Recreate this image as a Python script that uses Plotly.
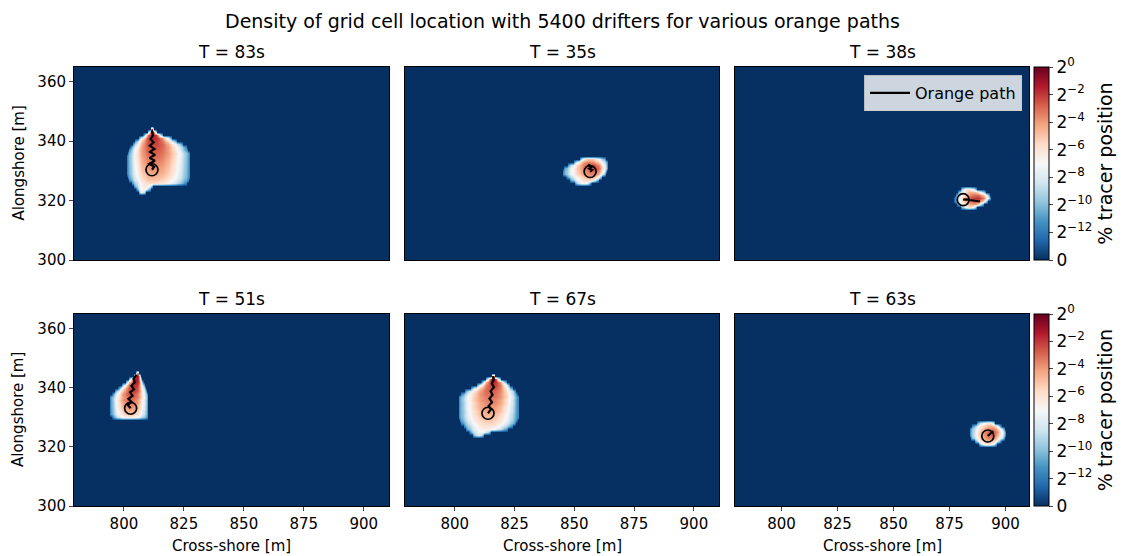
import numpy as np
import plotly.graph_objects as go

W, H = 1125, 556

# ---------------- data ----------------
panel_titles = ["T = 83s", "T = 35s", "T = 38s", "T = 51s", "T = 67s", "T = 63s"]
x_ticks = [800, 825, 850, 875, 900]
y_ticks = [300, 320, 340, 360]
cbar_vals = [-14, -12, -10, -8, -6, -4, -2, 0]
cbar_text = ["0", "2<sup>−12</sup>", "2<sup>−10</sup>", "2<sup>−8</sup>", "2<sup>−6</sup>",
             "2<sup>−4</sup>", "2<sup>−2</sup>", "2<sup>0</sup>"]

# blob outlines per row: y, left x, right x, x of densest cell, log2 density at that cell
b1_y = list(range(323, 345))
b1_xl = [806, 805, 804, 803, 802, 801.5, 801.2, 801.2, 801.2, 801.2, 801.2, 801.2, 801.2, 801.5, 801.8, 802.5, 803.5, 804.5, 806, 808, 810, 811]
b1_xr = [809, 811, 812, 826, 827, 827.5, 827.5, 827.5, 827.5, 827.5, 827.5, 827.5, 827.5, 827.5, 826.5, 826, 824.5, 822, 820, 816, 813.5, 812.5]
b1_xc = [807.5, 808, 809, 811, 811.5, 811.8, 812, 812, 812, 812, 812, 812, 812, 812, 812, 812, 812, 812, 812, 812, 811.8, 811.5]
b1_k = [-7.5, -6.8, -6.2, -5.6, -5.0, -4.6, -4.3, -4.0, -3.8, -3.6, -3.4, -3.2, -3.0, -2.8, -2.6, -2.4, -2.2, -2.0, -1.7, -1.4, -1.1, -1.0]

b2_y = list(range(326, 335))
b2_xl = [850, 848, 846.5, 845, 845, 845.5, 847, 849.5, 852]
b2_xr = [857, 860, 861.5, 863, 863.5, 864, 864, 864, 863]
b2_xc = [854, 856, 857.5, 858, 858.5, 858.5, 857.5, 856, 856]
b2_k = [-7, -5.5, -4.5, -3.5, -3.0, -2.5, -2.5, -3.5, -5]

b3_y = list(range(318, 325))
b3_xl = [880, 878, 877, 877, 877.5, 878.5, 880]
b3_xr = [887, 890, 892, 893.5, 893, 891, 887]
b3_xc = [884, 886, 887, 887.5, 887, 885, 883]
b3_k = [-6, -4, -2.5, -2, -3, -4.5, -6]

b4_y = list(range(330, 346))
b4_xl = [795, 794.2, 794.2, 794.2, 794.2, 794.2, 794.2, 794.2, 795, 796, 797.5, 799, 800.5, 802, 804, 805]
b4_xr = [810, 810.2, 810.2, 810.2, 810.2, 810.2, 810.2, 810.2, 810, 809.5, 809, 808.5, 808, 807.5, 807, 806]
b4_xc = [802, 802.5, 802.5, 802.8, 802.5, 803, 802.5, 803.5, 803, 804, 804, 804.5, 805, 805, 805.3, 805.5]
b4_k = [-6.5, -5.0, -4.5, -4.0, -3.6, -3.3, -3.0, -2.8, -2.5, -2.2, -2.0, -1.8, -1.5, -1.2, -1.0, -1.5]

b5_y = list(range(324, 345))
b5_xl = [807.5, 806, 804.5, 803.5, 802.5, 801.8, 801.4, 801.4, 801.4, 801.4, 801.4, 801.4, 801.4, 801.4, 802.5, 804, 806.5, 809, 811, 813, 815.5]
b5_xr = [812, 815, 822, 824, 825.5, 826.2, 826.4, 826.4, 826.4, 826.4, 826.4, 826.4, 826.4, 826.4, 826, 825.5, 824, 823, 821.5, 819, 816.5]
b5_xc = [810, 811, 812.5, 813.5, 814, 814, 814, 814, 814.8, 814.5, 814.6, 815.4, 814.8, 815.6, 815.2, 815.4, 816, 816.2, 816, 816, 816]
b5_k = [-8, -7.2, -6.5, -6, -5.5, -5.1, -4.8, -4.5, -4.2, -4.0, -3.8, -3.6, -3.4, -3.2, -3.0, -2.8, -2.5, -2.1, -1.7, -1.3, -1.1]

b6_y = list(range(321, 329))
b6_xl = [888, 886, 884.5, 884, 884, 884, 885, 887]
b6_xr = [896, 898, 899.5, 900, 900, 899.5, 898, 895]
b6_xc = [892, 892.5, 893, 893.5, 894, 894, 893.5, 893]
b6_k = [-6, -4.5, -3.5, -3, -2.8, -3.5, -4.5, -6]

# orange paths (first point = start, drawn with a circle)
p1_x = [811.7, 812.6, 810.6, 812.9, 810.7, 813.0, 810.9, 812.7, 810.8, 812.4, 811.1, 812.1, 811.6]
p1_y = [330.4, 331.4, 332.4, 333.4, 334.4, 335.4, 336.4, 337.4, 338.5, 339.6, 340.8, 342.0, 343.6]
p2_x = [856.6, 857.4, 856.2, 857.1, 856.0, 856.4]
p2_y = [329.8, 330.3, 330.8, 331.3, 331.8, 332.3]
p3_x = [881.1, 882.6, 884.1, 885.6, 887.1, 888.6]
p3_y = [320.3, 320.4, 320.2, 320.0, 319.9, 319.7]
p4_x = [802.8, 801.6, 803.2, 801.9, 803.6, 802.6, 804.2, 803.1, 804.6, 804.0, 805.3]
p4_y = [333.1, 334.2, 335.2, 336.3, 337.3, 338.5, 339.5, 340.7, 341.9, 343.0, 344.5]
p5_x = [813.9, 815.1, 814.2, 815.6, 814.5, 815.8, 815.0, 816.4, 815.5, 816.3, 816.0]
p5_y = [331.4, 332.7, 333.9, 335.1, 336.4, 337.6, 338.9, 340.2, 341.5, 342.8, 343.9]
p6_x = [892.1, 893.0, 893.8, 894.5]
p6_y = [323.7, 324.3, 324.9, 325.4]

# ---------------- build ----------------
X_RANGE = [779.2, 910.5]
Y_RANGE = [300, 365]
FLOOR = -14.0
EDGE = -11.8
gx = np.arange(779.25, 911.0, 0.5)
gy = np.arange(300, 366)


def field(by, bxl, bxr, bxc, bk):
    z = np.full((len(gy), len(gx)), FLOOR)
    for y, l, r, c, k in zip(by, bxl, bxr, bxc, bk):
        j = int(round(y - gy[0]))
        m = (gx >= l) & (gx <= r)
        xx = gx[m]
        d = np.where(xx < c, (c - xx) / max(c - l, 0.5), (xx - c) / max(r - c, 0.5))
        d = np.clip(d, 0, 1)
        z[j, m] = k - (k - EDGE) * d ** 2.2
    return z


blobs = [
    (b1_y, b1_xl, b1_xr, b1_xc, b1_k),
    (b2_y, b2_xl, b2_xr, b2_xc, b2_k),
    (b3_y, b3_xl, b3_xr, b3_xc, b3_k),
    (b4_y, b4_xl, b4_xr, b4_xc, b4_k),
    (b5_y, b5_xl, b5_xr, b5_xc, b5_k),
    (b6_y, b6_xl, b6_xr, b6_xc, b6_k),
]
paths = [(p1_x, p1_y), (p2_x, p2_y), (p3_x, p3_y), (p4_x, p4_y), (p5_x, p5_y), (p6_x, p6_y)]

rdbu_r = ['#053061', '#2166ac', '#4393c3', '#92c5de', '#d1e5f0', '#f7f7f7',
          '#fddbc7', '#f4a582', '#d6604d', '#b2182b', '#67001f']
cscale = [[i / 10, c] for i, c in enumerate(rdbu_r)]

# panel pixel boxes (left, right) and rows (top, bottom)
cols_px = [(74, 389), (405, 719), (735, 1029)]
rows_px = [(67, 260), (314, 506)]

FONT = "DejaVu Sans"
fig = go.Figure()
layout = dict(
    width=W, height=H, margin=dict(l=0, r=0, t=0, b=0, autoexpand=False),
    paper_bgcolor="white", plot_bgcolor="#053061",
    font=dict(family=FONT, color="black"),
    showlegend=True,
)

annotations = []
for i in range(6):
    r, c = divmod(i, 3)
    n = "" if i == 0 else str(i + 1)
    xa, ya = "x" + n, "y" + n
    (x0, x1), (y0, y1) = cols_px[c], rows_px[r]
    layout["xaxis" + n] = dict(
        domain=[x0 / W, x1 / W], range=X_RANGE, anchor=ya, automargin=False,
        showline=True, mirror=True, linecolor="black", linewidth=1,
        showgrid=False, zeroline=False,
        tickvals=x_ticks, ticks="outside" if r == 1 else "", ticklen=4,
        showticklabels=(r == 1), tickfont=dict(size=15),
    )
    layout["yaxis" + n] = dict(
        domain=[1 - y1 / H, 1 - y0 / H], range=Y_RANGE, anchor=xa, automargin=False,
        showline=True, mirror=True, linecolor="black", linewidth=1,
        showgrid=False, zeroline=False,
        tickvals=y_ticks, ticks="outside" if c == 0 else "", ticklen=4,
        showticklabels=(c == 0), tickfont=dict(size=15),
    )
    fig.add_trace(go.Heatmap(
        x=gx, y=gy, z=field(*blobs[i]), xaxis=xa, yaxis=ya,
        coloraxis="coloraxis" if r == 0 else "coloraxis2",
        zsmooth="best", hoverinfo="skip",
    ))
    px_, py_ = paths[i]
    fig.add_trace(go.Scatter(
        x=px_, y=py_, xaxis=xa, yaxis=ya, mode="lines",
        line=dict(color="black", width=2.2), name="Orange path",
        showlegend=(i == 0), hoverinfo="skip",
    ))
    fig.add_trace(go.Scatter(
        x=[px_[0]], y=[py_[0]], xaxis=xa, yaxis=ya, mode="markers",
        marker=dict(symbol="circle-open", size=12, color="black", line=dict(width=1.7)),
        showlegend=False, hoverinfo="skip",
    ))
    annotations.append(dict(
        text=panel_titles[i], x=(x0 + x1) / 2 / W, y=1 - (y0 - 15) / H,
        xref="paper", yref="paper", xanchor="center", yanchor="middle",
        showarrow=False, font=dict(size=17),
    ))
    if c == 0:
        annotations.append(dict(
            text="Alongshore [m]", x=18 / W, y=1 - (y0 + y1) / 2 / H,
            xref="paper", yref="paper", xanchor="center", yanchor="middle",
            textangle=-90, showarrow=False, font=dict(size=15),
        ))
    if r == 1:
        annotations.append(dict(
            text="Cross-shore [m]", x=(x0 + x1) / 2 / W, y=1 - 546 / H,
            xref="paper", yref="paper", xanchor="center", yanchor="middle",
            showarrow=False, font=dict(size=15),
        ))

annotations.append(dict(
    text="Density of grid cell location with 5400 drifters for various orange paths",
    x=0.5, y=1 - 21 / H, xref="paper", yref="paper", xanchor="center", yanchor="middle",
    showarrow=False, font=dict(size=19),
))
layout["annotations"] = annotations


def cbar(y0, y1):
    return dict(
        x=1034 / W, xanchor="left", xpad=0, ypad=0,
        y=1 - y1 / H, yanchor="bottom", len=(y1 - y0) / H, lenmode="fraction",
        thickness=15, outlinewidth=1, outlinecolor="black",
        tickvals=cbar_vals, ticktext=cbar_text, ticks="outside", ticklen=4,
        tickfont=dict(size=17),
        title=dict(text="% tracer position", side="right", font=dict(size=19)),
    )


layout["coloraxis"] = dict(colorscale=cscale, cmin=-14, cmax=0, colorbar=cbar(*rows_px[0]))
layout["coloraxis2"] = dict(colorscale=cscale, cmin=-14, cmax=0, colorbar=cbar(*rows_px[1]))
layout["legend"] = dict(
    x=1022 / W, xanchor="right", y=1 - 75 / H, yanchor="top",
    bgcolor="rgba(255,255,255,0.8)", bordercolor="rgba(204,204,204,0.9)", borderwidth=1,
    font=dict(size=16), itemwidth=40, tracegroupgap=0,
)
fig.update_layout(**layout)
fig.write_html("out.html")
